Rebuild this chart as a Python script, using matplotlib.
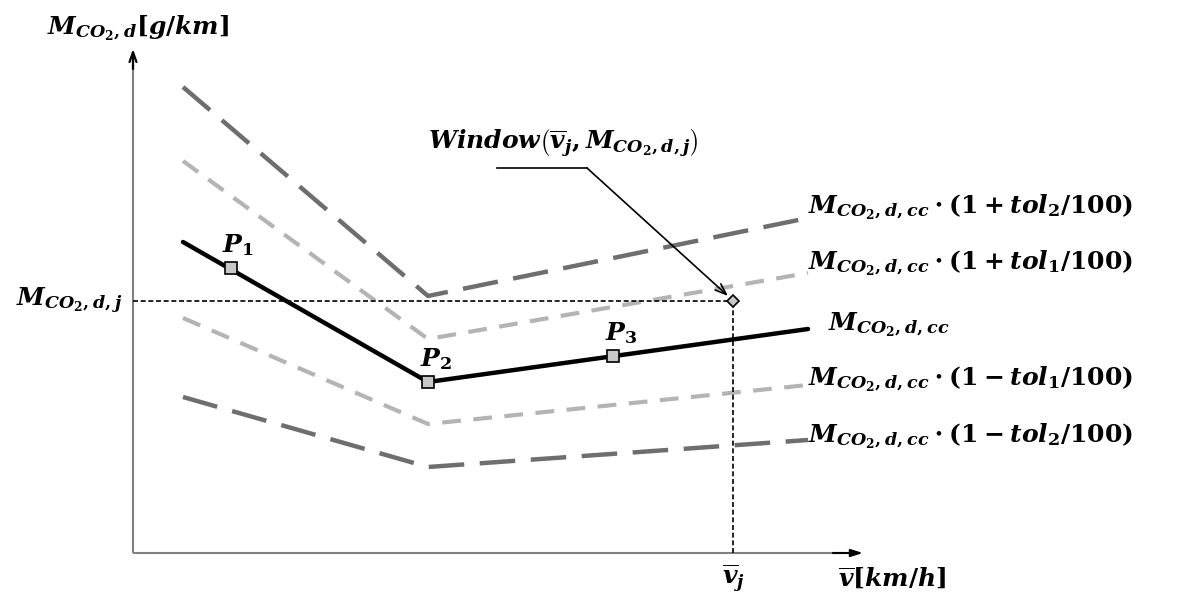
import matplotlib.pyplot as plt

# fonte type "Cambria Math" gras italique
plt.rcParams['mathtext.fontset'] = 'custom'
plt.rcParams['mathtext.it'] = 'DejaVu Serif:italic:bold'
plt.rcParams['mathtext.rm'] = 'DejaVu Serif:bold'
plt.rcParams['mathtext.bf'] = 'DejaVu Serif:bold'
plt.rcParams['font.family'] = 'DejaVu Serif'
plt.rcParams['font.weight'] = 'bold'

### donnees (v en km/h, M en g/km)
v_ligne = [10, 59, 135]
M_cc = [155.5, 85.5, 112]
M_plus_tol1 = [196, 107, 140]
M_moins_tol1 = [117.5, 64.5, 84]
M_plus_tol2 = [233, 128.5, 167.5]
M_moins_tol2 = [78, 43, 56.5]

v_P = [19.5, 59, 96]
M_P = [142.5, 85.5, 98.5]
noms_P = ["$P_1$", "$P_2$", "$P_3$"]

v_j = 120
M_j = 126

labels_droite = [r"$M_{CO_2,d,cc}\cdot(1+tol_2/100)$",
                 r"$M_{CO_2,d,cc}\cdot(1+tol_1/100)$",
                 r"$M_{CO_2,d,cc}$",
                 r"$M_{CO_2,d,cc}\cdot(1-tol_1/100)$",
                 r"$M_{CO_2,d,cc}\cdot(1-tol_2/100)$"]
y_labels_droite = [173, 145, 114, 87, 58.5]

fs = 18
gris_fonce = '#6e6e6e'
gris_clair = '#b4b4b4'

fig = plt.figure(figsize=(11.8, 5.96), dpi=100)
ax = fig.add_axes([0, 0, 1, 1])
ax.set_xlim(-26.6, 209.4)
ax.set_ylim(-21.5, 276.5)
ax.axis('off')

# axes avec fleches
ax.plot([0, 0], [0, 245], color='#808080', lw=1.5, solid_capstyle='butt')
ax.plot([0, 142], [0, 0], color='#808080', lw=1.5, solid_capstyle='butt')
ax.annotate('', xy=(0, 252), xytext=(0, 242),
            arrowprops=dict(arrowstyle='->,head_length=0.7,head_width=0.25', color='black', lw=1.6, shrinkA=0, shrinkB=0))
ax.annotate('', xy=(146, 0), xytext=(140, 0),
            arrowprops=dict(arrowstyle='-|>,head_length=0.7,head_width=0.22', color='black', lw=1.5, shrinkA=0, shrinkB=0))

# courbes
ax.plot(v_ligne, M_plus_tol2, color=gris_fonce, lw=3.2, dashes=(8, 3.5))
ax.plot(v_ligne, M_moins_tol2, color=gris_fonce, lw=3.2, dashes=(8, 3.5))
ax.plot(v_ligne, M_plus_tol1, color=gris_clair, lw=3.0, dashes=(4.5, 3))
ax.plot(v_ligne, M_moins_tol1, color=gris_clair, lw=3.0, dashes=(4.5, 3))
ax.plot(v_ligne, M_cc, color='black', lw=3.2, solid_capstyle='round')

# lignes de rappel
ax.plot([0, v_j], [M_j, M_j], color='black', lw=1.2, dashes=(3, 1.6))
ax.plot([v_j, v_j], [0, M_j], color='black', lw=1.2, dashes=(3, 1.6))
ax.plot([v_j], [M_j], marker='D', ms=6, mfc='#c8c8c8', mec='black', mew=1.2)

# points P
ax.plot(v_P, M_P, ls='none', marker='s', ms=8, mfc='#c8c8c8', mec='black', mew=1.2)
for v, m, nom in zip(v_P, M_P, noms_P):
    ax.text(v - 1.6, m + 11.5, nom, fontsize=fs, ha='left', va='center')

# annotation Window
ax.plot([72.8, 90.8], [192.5, 192.5], color='black', lw=1.2)
ax.annotate('', xy=(119, 128.5), xytext=(90.8, 192.5),
            arrowprops=dict(arrowstyle='->,head_length=0.8,head_width=0.3', color='black', lw=1.2, shrinkA=0, shrinkB=0))
ax.text(59, 205, r"$Window\left(\overline{v}_j, M_{CO_2,d,j}\right)$", fontsize=fs, ha='left', va='center')

# textes
ax.text(-17.2, 262.5, r"$M_{CO_2,d}[g/km]$", fontsize=fs, ha='left', va='center')
ax.text(-2, M_j, r"$M_{CO_2,d,j}$", fontsize=fs, ha='right', va='center')
for i, (lab, y) in enumerate(zip(labels_droite, y_labels_droite)):
    x = 139 if i == 2 else 135
    ax.text(x, y, lab, fontsize=fs, ha='left', va='center')
ax.text(v_j, -12.5, r"$\overline{v}_j$", fontsize=fs, ha='center', va='center')
ax.text(141, -12.5, r"$\overline{v}[km/h]$", fontsize=fs, ha='left', va='center')

fig.savefig('out.png', dpi=100)
